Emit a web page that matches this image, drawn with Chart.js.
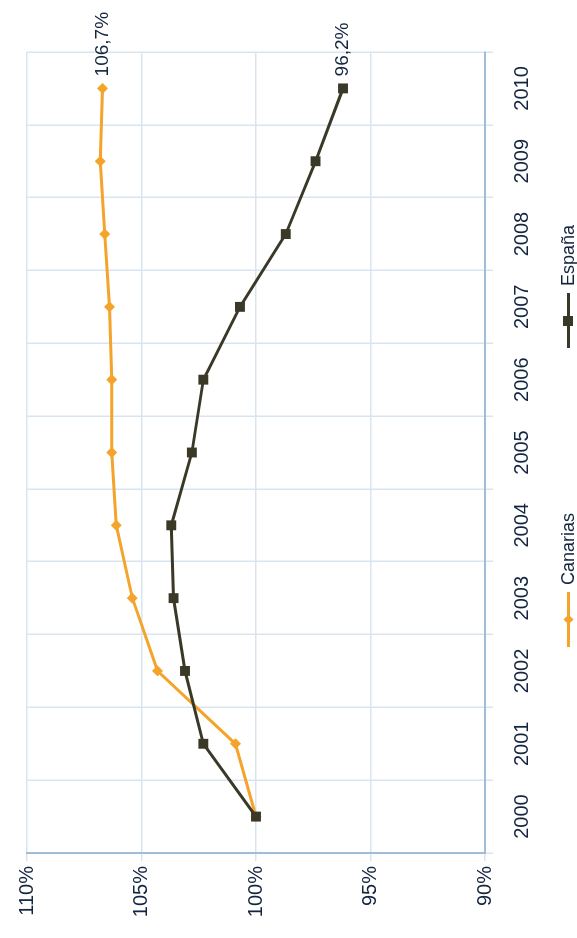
<!DOCTYPE html>
<html>
<head>
<meta charset="utf-8">
<script src="https://cdn.jsdelivr.net/npm/chart.js@4.4.1/dist/chart.umd.min.js"></script>
<style>
  html, body { margin: 0; padding: 0; background: #fff; }
  body { width: 577px; height: 938px; overflow: hidden; position: relative; }
  /* chart is drawn landscape, then turned a quarter to the left */
  #wrap {
    position: absolute; left: 0; top: 0;
    width: 938px; height: 577px;
    transform-origin: 0 0;
    transform: translateY(938px) rotate(-90deg);
  }
  #legend { position: absolute; left: 0; top: 558px; width: 938px; height: 20px;
            font: 18px 'Liberation Sans', Arial, sans-serif; color: #142540; }
  .item { position: absolute; top: 0; height: 20px; display: flex; align-items: center; white-space: nowrap; }
  .mark { position: relative; width: 55px; height: 20px; margin-right: 7px; }
  .mark .ln { position: absolute; left: 0; right: 0; top: 9px; height: 3px; }
  .mark .pt { position: absolute; }
</style>
</head>
<body>
<div id="wrap">
  <canvas id="chart" width="938" height="577"></canvas>
  <div id="legend"></div>
</div>
<script>
/* ── Data ── */
const years      = ['2000','2001','2002','2003','2004','2005','2006','2007','2008','2009','2010'];
const canarias   = [100, 100.9, 104.3, 105.4, 106.1, 106.3, 106.3, 106.4, 106.6, 106.8, 106.7];
const espana     = [100, 102.3, 103.1, 103.6, 103.7, 102.8, 102.3, 100.7, 98.7, 97.4, 96.2];
const valueTicks = [90, 95, 100, 105, 110];
const endLabels  = ['106,7%', '96,2%'];
const seriesNames = ['Canarias', 'España'];

/* ── Colours ── */
const C = {
  orange: '#f4a42a',
  dark:   '#3a3927',
  text:   '#142540',
  grid:   '#d8e5f1',
  axis:   '#9fbdd7',
};
const FONT = "'Liberation Sans', Arial, sans-serif";

/* value label at the end of each line */
const endLabelPlugin = {
  id: 'endLabel',
  afterDatasetsDraw(chart) {
    const ctx = chart.ctx;
    ctx.save();
    ctx.font = '19px ' + FONT;
    ctx.fillStyle = C.text;
    ctx.textAlign = 'left';
    ctx.textBaseline = 'middle';
    chart.data.datasets.forEach((ds, i) => {
      const pts = chart.getDatasetMeta(i).data;
      const last = pts[pts.length - 1];
      ctx.fillText(endLabels[i], last.x + 12, last.y);
    });
    ctx.restore();
  },
};

const chart = new Chart(document.getElementById('chart').getContext('2d'), {
  type: 'line',
  data: {
    labels: years,
    datasets: [
      {
        label: seriesNames[0],
        data: canarias,
        order: 1,               // drawn under España
        borderColor: C.orange,
        backgroundColor: C.orange,
        borderWidth: 3,
        tension: 0,
        pointStyle: 'rectRot',
        pointRadius: 5.5,
        pointBorderWidth: 0,
      },
      {
        label: seriesNames[1],
        data: espana,
        order: 0,
        borderColor: C.dark,
        backgroundColor: C.dark,
        borderWidth: 3,
        tension: 0,
        pointStyle: 'rect',
        pointRadius: 7,
        pointBorderWidth: 0,
      },
    ],
  },
  options: {
    responsive: false,
    animation: false,
    layout: { padding: { top: 27, right: 52, bottom: 42, left: 0 } },
    plugins: {
      legend: { display: false },
      tooltip: { enabled: false },
    },
    scales: {
      x: {
        offset: true,
        grid: { offset: true, color: C.grid, lineWidth: 1.5, tickLength: 8 },
        border: { color: C.axis, width: 2 },
        ticks: { color: C.text, font: { family: FONT, size: 20 }, padding: 17, maxRotation: 0, autoSkip: false },
        afterFit(s) { s.height = 50; },
      },
      y: {
        min: valueTicks[0],
        max: valueTicks[valueTicks.length - 1],
        grid: { color: C.grid, lineWidth: 1.5, tickLength: 8 },
        border: { color: C.axis, width: 2 },
        ticks: { color: C.text, font: { family: FONT, size: 20 }, padding: 5, callback: v => v + '%' },
        afterBuildTicks(s) { s.ticks = valueTicks.map(v => ({ value: v })); },
        afterFit(s) { s.width = 85; },
      },
    },
  },
  plugins: [endLabelPlugin],
});

/* ── Legend (line + marker, spread apart like the source) ── */
const legendPos = [291, 590];
const legend = document.getElementById('legend');
chart.data.datasets.forEach((ds, i) => {
  const item = document.createElement('div');
  item.className = 'item';
  item.style.left = legendPos[i] + 'px';
  const mark = document.createElement('span');
  mark.className = 'mark';
  const ln = document.createElement('span');
  ln.className = 'ln';
  ln.style.background = ds.borderColor;
  const pt = document.createElement('span');
  pt.className = 'pt';
  pt.style.background = ds.borderColor;
  if (ds.pointStyle === 'rect') {
    Object.assign(pt.style, { width: '10px', height: '10px', left: '22px', top: '5px' });
  } else {
    Object.assign(pt.style, { width: '7px', height: '7px', left: '24px', top: '7px', transform: 'rotate(45deg)' });
  }
  mark.appendChild(ln);
  mark.appendChild(pt);
  const txt = document.createElement('span');
  txt.textContent = ds.label;
  item.appendChild(mark);
  item.appendChild(txt);
  legend.appendChild(item);
});
</script>
</body>
</html>
